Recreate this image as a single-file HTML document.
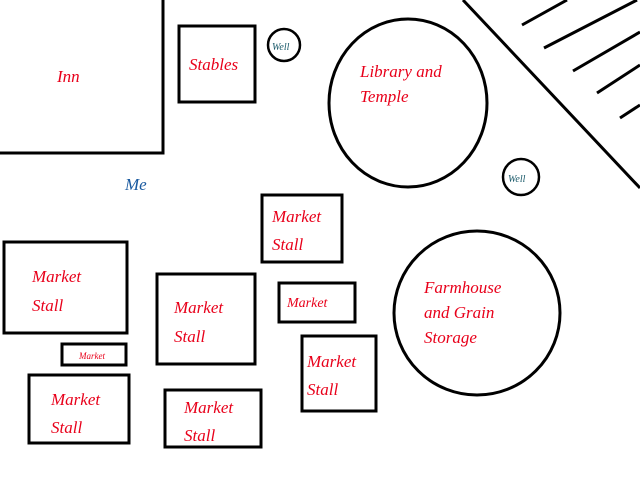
<!DOCTYPE html>
<html><head><style>
body{margin:0;background:#fff}
svg text{font-family:"Liberation Serif",serif;font-style:italic;fill:#e8001a;font-size:17px}
</style></head><body>
<svg width="640" height="480" viewBox="0 0 640 480" xmlns="http://www.w3.org/2000/svg">
<g stroke="#000" stroke-width="3" fill="none">
<polyline points="0,153 163,153 163,0"/>
<rect x="179" y="26" width="76" height="76"/>
<circle cx="284" cy="45" r="16" stroke-width="2.5"/>
<ellipse cx="408" cy="103" rx="79" ry="84"/>
<circle cx="521" cy="177" r="18" stroke-width="2.5"/>
<ellipse cx="477" cy="313" rx="83" ry="82"/>
<line x1="463" y1="0" x2="640" y2="188"/>
<line x1="522" y1="25" x2="567" y2="0"/>
<line x1="544" y1="48" x2="637" y2="0"/>
<line x1="573" y1="71" x2="640" y2="32"/>
<line x1="597" y1="93" x2="640" y2="65"/>
<line x1="620" y1="118" x2="640" y2="105"/>
<rect x="262" y="195" width="80" height="67"/>
<rect x="4" y="242" width="123" height="91"/>
<rect x="157" y="274" width="98" height="90"/>
<rect x="279" y="283" width="76" height="39"/>
<rect x="62" y="344" width="64" height="21"/>
<rect x="302" y="336" width="74" height="75"/>
<rect x="29" y="375" width="100" height="68"/>
<rect x="165" y="390" width="96" height="57"/>
</g>
<text x="57" y="82">Inn</text>
<text x="189" y="70">Stables</text>
<text x="272" y="50" style="font-size:10px;fill:#1a5a6a">Well</text>
<text x="360" y="77">Library and</text>
<text x="360" y="102">Temple</text>
<text x="508" y="182" style="font-size:10px;fill:#1a5a6a">Well</text>
<text x="125" y="190" style="fill:#1a5aa0">Me</text>
<text x="272" y="222">Market</text>
<text x="272" y="250">Stall</text>
<text x="32" y="282">Market</text>
<text x="32" y="311">Stall</text>
<text x="174" y="313">Market</text>
<text x="174" y="342">Stall</text>
<text x="287" y="307" style="font-size:14px">Market</text>
<text x="79" y="359" style="font-size:9px">Market</text>
<text x="307" y="367">Market</text>
<text x="307" y="395">Stall</text>
<text x="424" y="293">Farmhouse</text>
<text x="424" y="318">and Grain</text>
<text x="424" y="343">Storage</text>
<text x="51" y="405">Market</text>
<text x="51" y="433">Stall</text>
<text x="184" y="413">Market</text>
<text x="184" y="441">Stall</text>
</svg>
</body></html>
